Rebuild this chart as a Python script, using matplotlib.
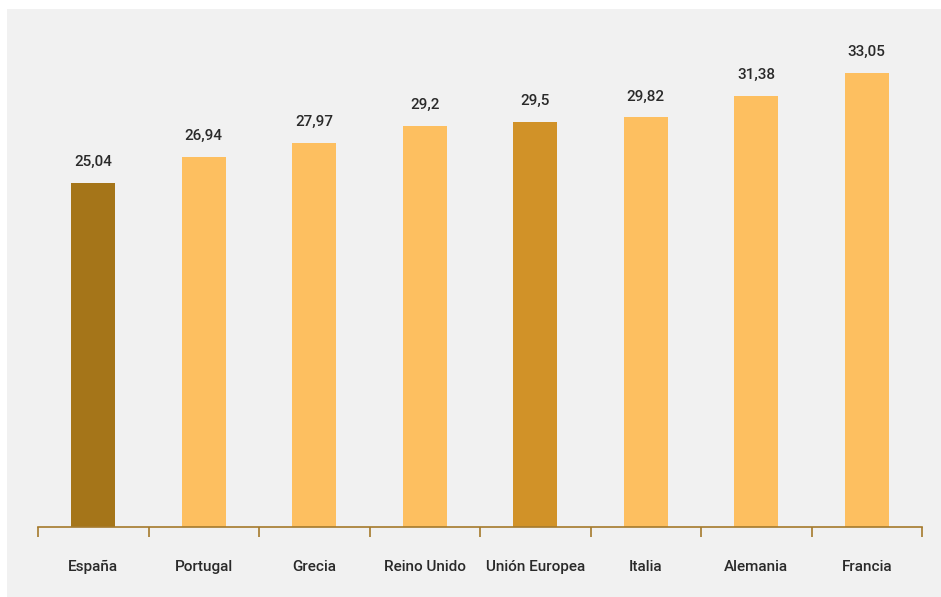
import matplotlib.pyplot as plt
from matplotlib.patches import Rectangle

paises = ['España', 'Portugal', 'Grecia', 'Reino Unido', 'Unión Europea',
          'Italia', 'Alemania', 'Francia']
valores = [25.04, 26.94, 27.97, 29.2, 29.5, 29.82, 31.38, 33.05]
etiquetas = ['25,04', '26,94', '27,97', '29,2', '29,5', '29,82', '31,38', '33,05']
colores = ['#A57519', '#FDBF60', '#FDBF60', '#FDBF60', '#D19228',
           '#FDBF60', '#FDBF60', '#FDBF60']

plt.rcParams['font.family'] = ['Roboto', 'DejaVu Sans']

W, H = 941, 597
fig = plt.figure(figsize=(W / 100, H / 100), dpi=100, facecolor='white')

# gray panel behind everything
fig.patches.append(Rectangle((7 / W, 0), 1 - 7 / W, 1 - 9 / H,
                             transform=fig.transFigure, facecolor='#F1F1F1',
                             edgecolor='none', zorder=-10))

# axes: x from 38 to 922 px, baseline at y=527, top at y=9
x0, x1 = 38, 922
yb, yt = 527, 9
ax = fig.add_axes([x0 / W, (H - yb) / H, (x1 - x0) / W, (yb - yt) / H])
ax.set_zorder(5)
ax.set_facecolor('none')

pos = list(range(len(paises)))
ax.bar(pos, valores, width=0.4, color=colores, zorder=2)
ax.set_xlim(-0.5, len(paises) - 0.5)
ax.set_ylim(0, (yb - yt) / 13.74)

for p, v, t in zip(pos, valores, etiquetas):
    ax.text(p, v + 1.0, t, ha='center', va='bottom', fontsize=11,
            fontweight='medium', color='#2A2A2A')

for s in ['top', 'right', 'left']:
    ax.spines[s].set_visible(False)
ax.spines['bottom'].set_color('#A57A2C')
ax.spines['bottom'].set_linewidth(1.2)

ax.set_yticks([])
ax.set_xticks([p - 0.5 for p in pos] + [len(paises) - 0.5], minor=False)
ax.set_xticklabels([])
ax.tick_params(axis='x', length=7, width=1.2, color='#A57A2C')
ax.set_xticks(pos, minor=True)
ax.set_xticklabels(paises, minor=True, fontsize=11, fontweight='medium',
                   color='#2A2A2A')
ax.tick_params(axis='x', which='minor', length=0, pad=24)

plt.savefig('out.png', dpi=100)
